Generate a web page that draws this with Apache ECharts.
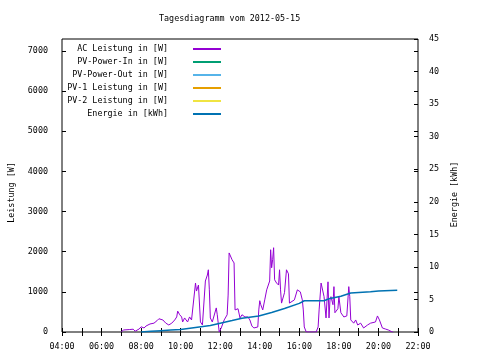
<!DOCTYPE html>
<html><head><meta charset="utf-8">
<script src="https://cdn.jsdelivr.net/npm/echarts@6/dist/echarts.min.js"></script>
<style>html,body{margin:0;padding:0;background:#fff}#c{width:480px;height:360px}</style>
</head><body><div id="c"></div>
<script>
const chartTitle = 'Tagesdiagramm vom 2012-05-15';
const leftAxisName = 'Leistung [W]';
const rightAxisName = 'Energie [kWh]';
const seriesNames = ['AC Leistung in [W]', 'PV-Power-In in [W]', 'PV-Power-Out in [W]', 'PV-1 Leistung in [W]', 'PV-2 Leistung in [W]', 'Energie in [kWh]'];
const seriesColors = ['#9400d3', '#009e73', '#56b4e9', '#e69f00', '#f0e442', '#0072b2'];
const xTickLabels = ['04:00', '06:00', '08:00', '10:00', '12:00', '14:00', '16:00', '18:00', '20:00', '22:00'];
const leftTickLabels = ['0', '1000', '2000', '3000', '4000', '5000', '6000', '7000'];
const rightTickLabels = ['0', '5', '10', '15', '20', '25', '30', '35', '40', '45'];

const acTimes = ['07:00','07:06','07:12','07:24','07:36','07:42','07:48','07:54','08:00','08:09','08:15','08:21','08:27','08:33','08:39','08:48','08:54','09:00','09:06','09:15','09:24','09:33','09:42','09:48','09:51','09:57','10:03','10:06','10:12','10:21','10:27','10:33','10:39','10:45','10:48','10:54','11:00','11:06','11:12','11:15','11:21','11:24','11:27','11:30','11:36','11:42','11:48','11:51','11:57','12:03','12:12','12:21','12:24','12:27','12:33','12:36','12:42','12:45','12:54','13:00','13:06','13:15','13:24','13:30','13:36','13:42','13:48','13:54','13:57','14:00','14:03','14:09','14:15','14:21','14:24','14:30','14:33','14:36','14:39','14:42','14:45','14:51','14:57','15:00','15:03','15:06','15:12','15:15','15:21','15:27','15:30','15:36','15:45','15:54','16:03','16:09','16:12','16:15','16:21','16:51','16:57','17:00','17:06','17:12','17:15','17:21','17:27','17:30','17:33','17:36','17:42','17:45','17:48','17:54','17:57','18:00','18:06','18:15','18:24','18:30','18:33','18:36','18:45','18:51','18:57','19:06','19:15','19:27','19:36','19:42','19:51','19:57','20:03','20:12','20:21','20:30','20:42','20:45'];
const acWatts = [0,50,60,60,70,20,0,75,130,100,150,130,200,170,220,280,330,350,300,220,175,220,300,375,520,430,375,250,350,250,375,300,275,1220,1020,1170,250,175,175,1270,1420,1550,1050,350,250,250,600,430,0,100,300,430,920,1970,2000,1800,1720,550,580,350,430,375,375,300,150,100,75,125,550,780,680,550,800,1050,1080,1270,2050,1600,1800,2100,1300,1220,1170,1550,1050,720,720,980,1550,1450,720,750,800,1050,1000,800,550,125,0,0,125,550,1220,1250,880,350,1250,350,800,880,680,1130,480,500,580,880,480,375,400,1130,880,300,220,300,175,220,100,175,220,250,250,400,300,100,75,50,0,0];

const energyTimes = ['08:00','08:30','09:00','09:30','10:00','10:45','11:30','12:00','12:36','13:06','13:57','14:36','15:15','16:00','16:15','17:15','17:30','18:06','18:36','19:36','20:00','20:57'];
const energyKWh = [0,0.1,0.2,0.3,0.4,0.7,1.0,1.35,1.75,2.1,2.45,3.0,3.6,4.4,4.8,4.8,5.1,5.5,6.0,6.2,6.3,6.4];

function toHours(s){ const p = s.split(':'); return +p[0] + (+p[1])/60; }
function pair(ts, vs){ return ts.map((t,i)=>[toHours(t), vs[i]]); }

const FONT = 'DejaVu Sans Mono';
const FS = 8.4;
const chart = echarts.init(document.getElementById('c'), null, {renderer:'canvas'});

const xFmt = v => { const i = xTickLabels.findIndex(l => toHours(l) === v); return i >= 0 ? xTickLabels[i] : ''; };
const lFmt = v => leftTickLabels.includes(String(v)) ? String(v) : '';
const rFmt = v => rightTickLabels.includes(String(v)) ? String(v) : '';

const seriesData = [pair(acTimes, acWatts), [], [], [], [], pair(energyTimes, energyKWh)];

chart.setOption({
  animation: false,
  backgroundColor: '#fff',
  textStyle: {fontFamily: FONT, color: '#000'},
  title: {text: chartTitle, left: 154, top: 10, textStyle: {fontFamily: FONT, fontSize: FS, fontWeight: 'normal', color: '#000'}},
  grid: {left: 58, right: 62, top: 39, bottom: 28, show: true, borderColor: '#000', borderWidth: 1, backgroundColor: 'transparent'},
  legend: {
    orient: 'vertical', left: 60, top: 40, align: 'right', itemWidth: 28, itemHeight: 10, itemGap: 5,
    data: seriesNames,
    itemStyle: {opacity: 0},
    formatter: n => '{a|' + n + '}{b|}',
    textStyle: {fontFamily: FONT, fontSize: FS, color: '#000',
      rich: {a: {width: 103, align: 'right', fontFamily: FONT, fontSize: FS, lineHeight: 10, color: '#000'}, b: {width: 20}}}
  },
  xAxis: [
    {type: 'value', min: 4, max: 22, interval: 1, position: 'bottom',
     axisLine: {show: false}, splitLine: {show: false},
     axisTick: {inside: true, length: 4, lineStyle: {color: '#000'}},
     axisLabel: {formatter: xFmt, fontFamily: FONT, fontSize: FS, color: '#000', margin: 11}},
    {type: 'value', min: 4, max: 22, interval: 1, position: 'top',
     axisLine: {show: false}, splitLine: {show: false},
     axisTick: {inside: true, length: 4, lineStyle: {color: '#000'}},
     axisLabel: {show: false}}
  ],
  yAxis: [
    {type: 'value', min: 0, max: 7300, interval: 1000, position: 'left',
     name: leftAxisName, nameLocation: 'middle', nameGap: 46, nameRotate: 90,
     nameTextStyle: {fontFamily: FONT, fontSize: FS, color: '#000', padding: [0, 0, 0, -14]},
     axisLine: {show: false}, splitLine: {show: false},
     axisTick: {inside: true, length: 4, lineStyle: {color: '#000'}},
     axisLabel: {formatter: lFmt, showMaxLabel: false, fontFamily: FONT, fontSize: FS, color: '#000', margin: 14}},
    {type: 'value', min: 0, max: 45, interval: 5, position: 'right',
     name: rightAxisName, nameLocation: 'middle', nameGap: 33, nameRotate: 90,
     nameTextStyle: {fontFamily: FONT, fontSize: FS, color: '#000', padding: [0, 0, 0, -18]},
     axisLine: {show: false}, splitLine: {show: false},
     axisTick: {inside: true, length: 4, lineStyle: {color: '#000'}},
     axisLabel: {formatter: rFmt, fontFamily: FONT, fontSize: FS, color: '#000', margin: 11}},
    {type: 'value', min: 0, max: 7300, interval: 1000, position: 'right',
     axisLine: {show: false}, splitLine: {show: false},
     axisTick: {inside: true, length: 4, lineStyle: {color: '#000'}},
     axisLabel: {show: false}}
  ],
  series: seriesNames.map((n, i) => ({
    name: n, type: 'line', yAxisIndex: i === 5 ? 1 : 0,
    data: seriesData[i], symbol: 'none', showSymbol: false,
    lineStyle: {width: i === 5 ? 1.5 : 1, color: seriesColors[i]},
    itemStyle: {color: seriesColors[i]}, z: i === 5 ? 3 : 2
  }))
});
</script></body></html>
